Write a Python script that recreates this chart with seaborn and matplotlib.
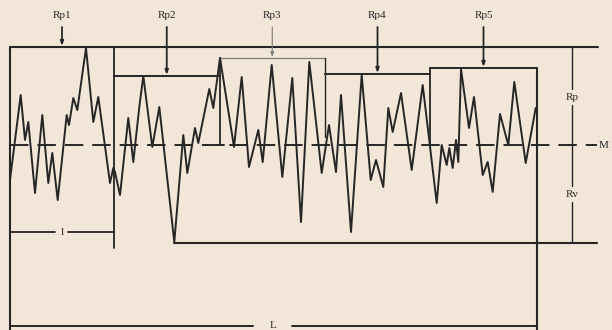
import matplotlib
matplotlib.use("Agg")
import matplotlib.pyplot as plt
import seaborn as sns
import pandas as pd

# ---- data (horizontal position, height above mean line M) ----
profile_x = [10, 20.7, 25, 28.3, 35, 42.3, 48.3, 52.3, 57.7, 66.7, 69, 73.3, 77.3, 86,
             93.3, 98.3, 110, 113.3, 115, 120, 128.3, 133.3, 139.3, 143.3, 152.3, 159.3,
             174.3, 183.3, 187.3, 195, 198.3, 209.3, 213.3, 220, 234, 241.7, 249, 258.3,
             262.7, 271.7, 282.3, 292.3, 301, 309.3, 321.7, 329, 336, 341, 351, 361.7,
             370.7, 376, 383.3, 388.3, 392.7, 401, 411.7, 422.7, 436.7, 441.7, 446.7,
             449.3, 452.7, 456, 458.3, 461, 469, 474, 482.7, 487.7, 492.7, 500, 508.3,
             514.3, 525.7, 535.7]
profile_h = [-35, 50, 5, 23, -48, 30, -38, -8, -55, 30, 20, 47, 35, 97,
             23, 48, -38, -23, -27, -50, 27, -17, 38, 69, -2, 38,
             -97, 10, -28, 17, 2, 56, 37, 87, -2, 68, -22, 15,
             -17, 80, -32, 67, -77, 83, -28, 20, -27, 50, -87, 70,
             -35, -15, -42, 37, 13, 52, -25, 60, -58, 0, -20,
             -3, -23, 5, -17, 76, 17, 48, -30, -17, -47, 31, 0,
             63, -18, 37]

segment_edges = [10, 114, 219.5, 325, 430, 537]
rp_labels = ["Rp1", "Rp2", "Rp3", "Rp4", "Rp5"]
rp_levels = [98, 69, 87, 71, 77]
rp_max = 98
rv_max = -98

BG = "#F1E6D7"
INK = "#262626"
GRAY = "#7a7a7a"

sns.set_theme(style="white")
plt.rcParams["font.family"] = ["Liberation Serif", "DejaVu Serif"]
FS = 8

fig = plt.figure(figsize=(6.12, 3.30), dpi=100, facecolor=BG)
ax = fig.add_axes([0, 0, 1, 1])
ax.set_facecolor(BG)
ax.set_xlim(0, 612)
ax.set_ylim(-185, 145)
ax.axis("off")

df = pd.DataFrame({"x": profile_x, "h": profile_h})
sns.lineplot(data=df, x="x", y="h", sort=False, estimator=None, color=INK,
             linewidth=1.4, ax=ax)

x0, xL = segment_edges[0], segment_edges[-1]
# mean line
ax.plot([x0, 597], [0, 0], color=INK, lw=1.4, ls=(0, (9.5, 4.6)), zorder=1)
# max peak line and max valley line
ax.plot([x0, 598], [rp_max, rp_max], color=INK, lw=1.5)
ax.plot([174.3, 597], [rv_max, rv_max], color=INK, lw=1.5)
# left border and l boundary
ax.plot([x0, x0], [rp_max, -185], color=INK, lw=1.5)
ax.plot([segment_edges[1]] * 2, [rp_max, -103], color=INK, lw=1.3)
# right border
ax.plot([xL, xL], [rp_levels[4], -185], color=INK, lw=1.5)

# sampling boxes
box_col = [INK, INK, GRAY, INK, INK]
box_lw = [1.5, 1.4, 0.9, 1.4, 1.4]
for i in range(1, 5):
    a, b = segment_edges[i], segment_edges[i + 1]
    ax.plot([a, b], [rp_levels[i], rp_levels[i]], color=box_col[i], lw=box_lw[i])
ax.plot([segment_edges[2]] * 2, [rp_levels[2], 0], color=INK, lw=1.3)
ax.plot([segment_edges[2] - 4, segment_edges[2] + 4], [0, 0], color=INK, lw=1.4)
ax.plot([segment_edges[3]] * 2, [rp_levels[2], 8], color=INK, lw=1.0)
ax.plot([segment_edges[4]] * 2, [rp_levels[4], -2], color=INK, lw=1.3)

# Rp labels and arrows
for i, lab in enumerate(rp_labels):
    cx = (segment_edges[i] + segment_edges[i + 1]) / 2
    col = GRAY if i == 2 else INK
    lw = 0.8 if i == 2 else 1.3
    ax.annotate("", xy=(cx, rp_levels[i] + 1), xytext=(cx, 118),
                arrowprops=dict(arrowstyle="-|>,head_length=0.22,head_width=0.08",
                                color=col, lw=lw, shrinkA=0, shrinkB=0))
    ax.text(cx, 130, lab, ha="center", va="center", fontsize=FS, color=INK)

# right dimension Rp / Rv
xd = 572
ax.plot([xd, xd], [rp_max, 56], color=INK, lw=1.0)
ax.plot([xd, xd], [40, -41], color=INK, lw=1.0)
ax.plot([xd, xd], [-57, rv_max], color=INK, lw=1.0)
ax.text(xd, 48, "Rp", ha="center", va="center", fontsize=FS, color=INK)
ax.text(xd, -49, "Rv", ha="center", va="center", fontsize=FS, color=INK)
ax.text(604, 0, "M", ha="center", va="center", fontsize=FS, color=INK)

# l dimension
yl = -87
ax.plot([x0, 55], [yl, yl], color=INK, lw=1.3)
ax.plot([68, segment_edges[1]], [yl, yl], color=INK, lw=1.3)
ax.text(62, yl, "l", ha="center", va="center", fontsize=FS, color=INK)

# L dimension
yL = -181
ax.plot([x0, 253], [yL, yL], color=INK, lw=1.4)
ax.plot([292, xL], [yL, yL], color=INK, lw=1.4)
ax.text(273, yL, "L", ha="center", va="center", fontsize=FS, color=INK)

fig.savefig("out.png", dpi=100, facecolor=BG)
